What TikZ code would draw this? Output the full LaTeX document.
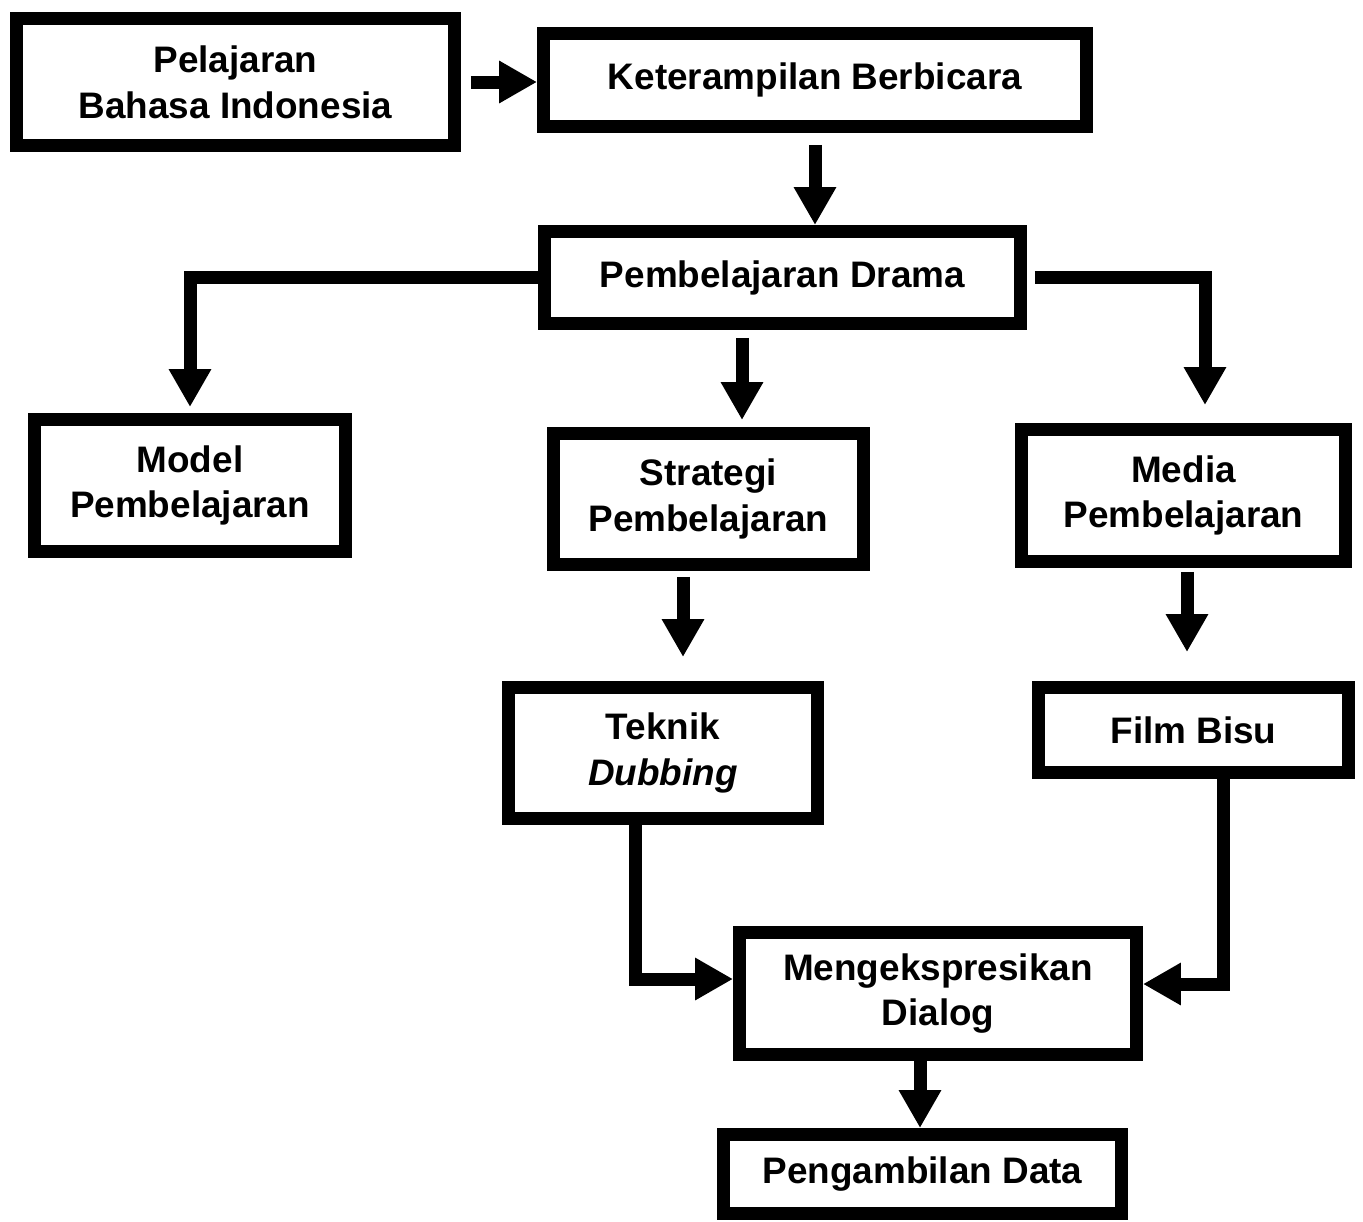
\documentclass[tikz,border=0pt]{standalone}
\usepackage{fontspec}
\setmainfont{Liberation Sans}
\usetikzlibrary{arrows.meta,calc}
\tikzset{
  box/.style={draw, line width=0.26cm, inner sep=0pt, align=center,
    font=\fontsize{21}{26}\selectfont\bfseries},
  arr/.style={line width=0.26cm, -{Triangle[length=0.76cm,width=0.8cm]}},
}
\begin{document}
\begin{tikzpicture}[x=0.02cm,y=-0.02cm]
\useasboundingbox (0,0) rectangle (1363,1221);
\node[box, minimum width=8.76cm, minimum height=2.54cm] (b1) at (235.5,82) {Pelajaran\\Bahasa Indonesia};
\node[box, minimum width=10.86cm, minimum height=1.86cm] (b2) at (815,80) {Keterampilan Berbicara};
\node[box, minimum width=9.52cm, minimum height=1.84cm] (b3) at (782.5,277.5) {Pembelajaran Drama};
\node[box, minimum width=6.22cm, minimum height=2.64cm] (b4) at (190,485.5) {Model\\Pembelajaran};
\node[box, minimum width=6.20cm, minimum height=2.62cm] (b5) at (708.5,499) {Strategi\\Pembelajaran};
\node[box, minimum width=6.48cm, minimum height=2.64cm] (b6) at (1183.5,495.5) {Media\\Pembelajaran};
\node[box, minimum width=6.18cm, minimum height=2.62cm] (b7) at (663,753) {Teknik\\\textit{Dubbing}};
\node[box, minimum width=6.20cm, minimum height=1.70cm] (b8) at (1193.5,730) {Film Bisu};
\node[box, minimum width=7.94cm, minimum height=2.44cm] (b9) at (938,993.5) {Mengekspresikan\\Dialog};
\node[box, minimum width=7.96cm, minimum height=1.58cm] (b10) at (922.5,1174) {Pengambilan Data};

\draw[arr, shorten <=0.2cm] (b1.east) -- (b1.east -| b2.west);
\draw[arr, shorten <=0.24cm] (b2.south) -- (b2.south |- b3.north);
\draw[arr, shorten >=0.12cm] (b3.west) -| (b4.north);
\draw[arr, shorten <=0.16cm, shorten >=0.14cm] ([xshift=-0.81cm]b3.south) -- ([xshift=-0.81cm]b3.south |- b5.north);
\draw[arr, shorten <=0.16cm, shorten >=0.36cm] (b3.east) -| ([xshift=0.43cm]b6.north);
\draw[arr, shorten <=0.12cm, shorten >=0.48cm] ([xshift=-0.51cm]b5.south) -- ([xshift=-0.51cm]b5.south |- b7.north);
\draw[arr, shorten <=0.08cm, shorten >=0.58cm] ([xshift=0.07cm]b6.south) -- ([xshift=0.07cm]b6.south |- b8.north);
\draw[arr] ([xshift=-0.56cm]b7.south) |- ([yshift=0.29cm]b9.west);
\draw[arr] ([xshift=0.59cm]b8.south) |- ([yshift=0.19cm]b9.east);
\draw[arr] ([xshift=-0.36cm]b9.south) -- ([xshift=-0.36cm]b9.south |- b10.north);
\end{tikzpicture}
\end{document}
